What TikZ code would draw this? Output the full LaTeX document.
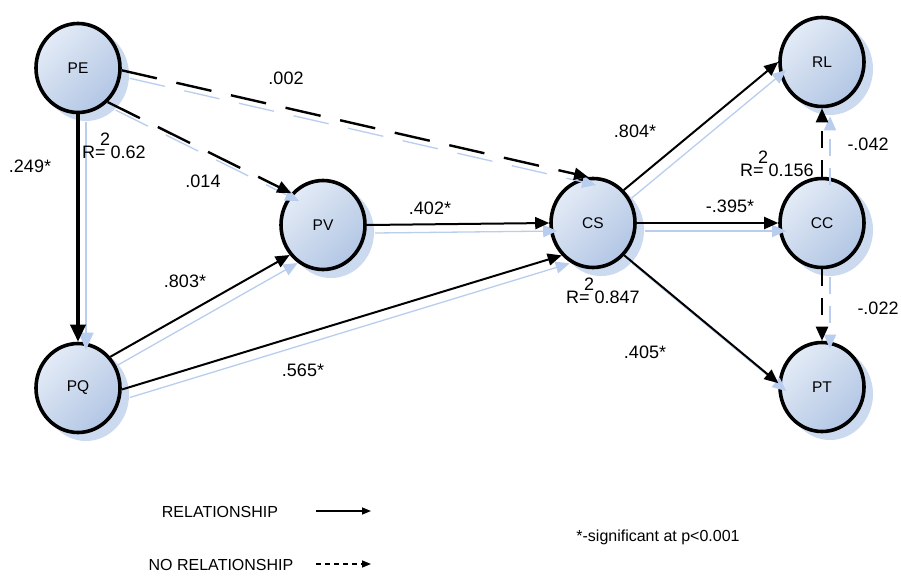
\documentclass[tikz,border=0pt]{standalone}
\usepackage{fontspec}
\setmainfont{Liberation Sans}
\usetikzlibrary{arrows.meta,shapes.geometric}

\definecolor{nodelight}{HTML}{E3EBF6}
\definecolor{nodedark}{HTML}{B2C6E4}
\definecolor{haloblue}{HTML}{CCDAEF}
\definecolor{ghostblue}{HTML}{B9CEEE}

\begin{document}
\begin{tikzpicture}[x=1pt,y=-1pt,
  construct/.style={ellipse, draw=black, line width=3.6pt,
    minimum width=84pt, minimum height=89pt, inner sep=0pt,
    top color=nodelight, bottom color=nodedark, shading angle=45,
    font=\fontsize{15.5}{16}\selectfont},
  halo/.style={fill=haloblue},
  lbl/.style={font=\fontsize{18}{20}\selectfont, inner sep=0pt},
  legendlbl/.style={font=\fontsize{16}{18}\selectfont, inner sep=0pt},
  tip/.style={-{Triangle[length=14pt,width=12pt]}},
  sig/.style={tip, line width=2pt},
  sigthick/.style={line width=3.6pt, -{Triangle[length=17pt,width=15pt]}},
  nonsig/.style={tip, line width=2.4pt, dash pattern=on 36pt off 20pt},
  nonsigshort/.style={tip, line width=2.4pt, dash pattern=on 17pt off 12pt},
  ghost/.style={draw=ghostblue, line width=1.3pt},
  legendsig/.style={line width=1.5pt, -{Triangle[length=9pt,width=7pt]}},
  legendnon/.style={legendsig, dash pattern=on 5pt off 4pt}
]
\fill[white] (0,0) rectangle (901,575);
\useasboundingbox (0,0) rectangle (901,575);

% constructs with their soft offset halo
\foreach \n/\x/\y in {PE/78/68, PQ/78/388, PV/323/225, CS/593/223,
                      RL/822/62, CC/822/223, PT/822/387} {
  \fill[halo] (\x+8,\y+7) ellipse [x radius=43, y radius=46];
  \node[construct] (\n) at (\x,\y) {\n};
}

% paths: start anchor / end anchor / style
\foreach \a/\b/\s in {PE.270/PQ.90/sigthick, PE.-49/PV.135/nonsig,
                      PE.-3/CS.96/nonsig, PQ.44/PV.222/sig,
                      PQ.-2/CS.226/sig, PV.0/CS.180/sig,
                      CS.47/RL.180/sig, CS.0/CC.180/sig,
                      CS.-46/PT.175/sig, CC.90/RL.270/nonsigshort,
                      CC.270/PT.90/nonsigshort} {
  \draw[\s, ghost] ([shift={(8,8)}]\a) -- ([shift={(8,8)}]\b);
  \draw[\s] (\a) -- (\b);
}

% path coefficients
\node[lbl] (c249) at (30,166) {.249*};
\node[lbl] (c014) at (203,181) {.014};
\node[lbl] (c002) at (286,78) {.002};
\node[lbl] (c803) at (185,281) {.803*};
\node[lbl] (c565) at (303,370) {.565*};
\node[lbl] (c402) at (430,208) {.402*};
\node[lbl] (c804) at (635,131) {.804*};
\node[lbl] (c395) at (730,206) {-.395*};
\node[lbl] (c405) at (645,352) {.405*};
\node[lbl] (c042) at (868,144) {-.042};
\node[lbl] (c022) at (878,308) {-.022};

% explained variance
\node[lbl, anchor=base west] (rPQ) at (82,158)
  {R\rlap{\kern5pt\raisebox{13pt}{2}}= 0.62};
\node[lbl, anchor=base west] (rCS) at (566,303)
  {R\rlap{\kern5pt\raisebox{13pt}{2}}= 0.847};
\node[lbl, anchor=base west] (rCC) at (740,176)
  {R\rlap{\kern5pt\raisebox{13pt}{2}}= 0.156};

% legend
\node[legendlbl] (lgRel) at (220,512) {RELATIONSHIP};
\coordinate (lgRelA) at (316,511);
\coordinate (lgRelB) at (371,511);
\draw[legendsig] (lgRelA) -- (lgRelB);
\node[legendlbl] (lgNon) at (221,565) {NO RELATIONSHIP};
\coordinate (lgNonA) at (316,564);
\coordinate (lgNonB) at (371,564);
\draw[legendnon] (lgNonA) -- (lgNonB);
\node[font=\fontsize{16}{18}\selectfont, inner sep=0pt] (note) at (658,537)
  {*-significant at p<0.001};
\end{tikzpicture}
\end{document}
